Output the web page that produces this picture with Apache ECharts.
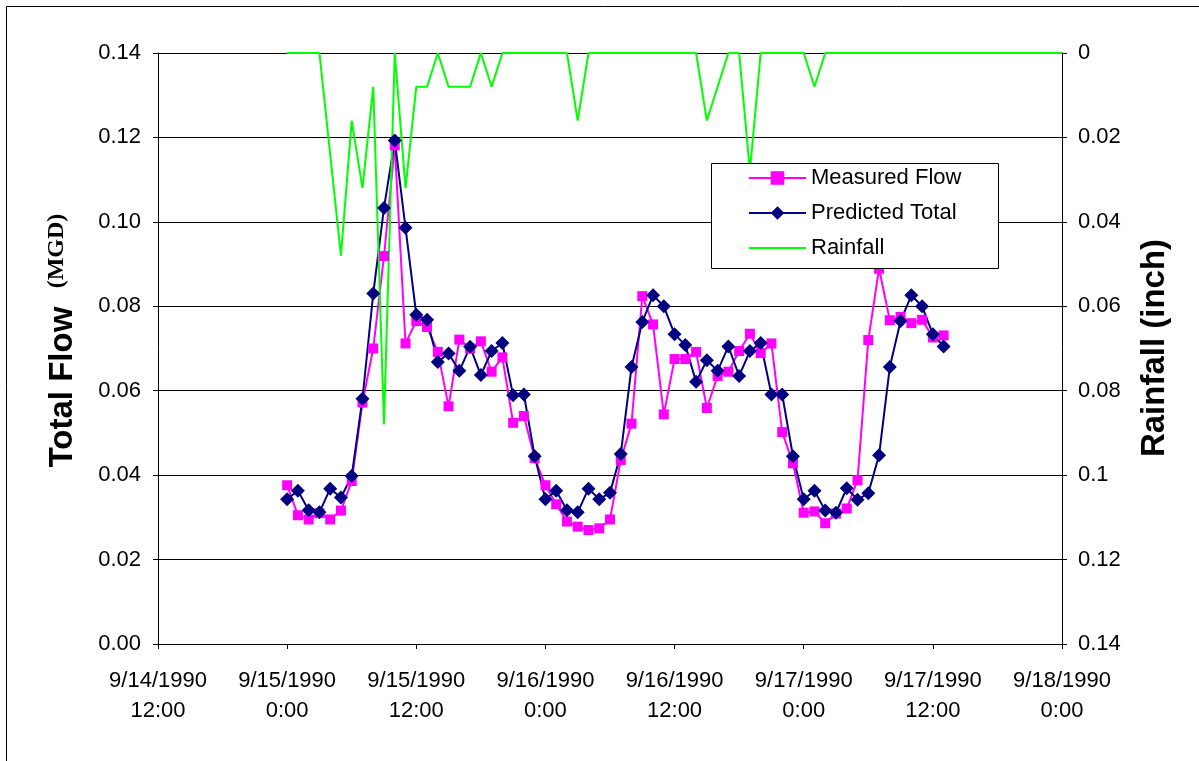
<!DOCTYPE html>
<html>
<head>
<meta charset="utf-8">
<script src="https://cdn.jsdelivr.net/npm/echarts@6/dist/echarts.min.js"></script>
<style>
html,body{margin:0;padding:0;background:#fff;}
#chart{width:1199px;height:761px;}
</style>
</head>
<body>
<div id="chart"></div>
<script>
// Axis starts at 9/14/1990 12:00; values are hours since then
const axisStart = Date.UTC(1990, 8, 14, 12);
const xTickHours = [0, 12, 24, 36, 48, 60, 72, 84];
// hourly readings, first at 9/15/1990 0:00 (hour 12 on the axis)
const flowStartHour = 12;
const measuredFlow = [
  0.0376, 0.0305, 0.0295, 0.0310, 0.0295, 0.0316, 0.0386, 0.0572, 0.0700, 0.0919,
  0.1181, 0.0712, 0.0765, 0.0751, 0.0692, 0.0563, 0.0721, 0.0700, 0.0717, 0.0645,
  0.0679, 0.0524, 0.0540, 0.0440, 0.0376, 0.0331, 0.0290, 0.0278, 0.0270, 0.0274,
  0.0295, 0.0436, 0.0522, 0.0824, 0.0757, 0.0544, 0.0675, 0.0675, 0.0692, 0.0559,
  0.0635, 0.0645, 0.0694, 0.0735, 0.0689, 0.0712, 0.0502, 0.0428, 0.0311, 0.0314,
  0.0286, 0.0309, 0.0321, 0.0388, 0.0720, 0.0889, 0.0767, 0.0775, 0.0760, 0.0768,
  0.0726, 0.0731
];
const predictedTotal = [
  0.0343, 0.0363, 0.0317, 0.0312, 0.0368, 0.0347, 0.0398, 0.0581, 0.0830, 0.1033,
  0.1193, 0.0986, 0.0780, 0.0768, 0.0668, 0.0688, 0.0647, 0.0704, 0.0637, 0.0694,
  0.0713, 0.0589, 0.0591, 0.0445, 0.0343, 0.0363, 0.0317, 0.0312, 0.0368, 0.0343,
  0.0358, 0.0450, 0.0656, 0.0763, 0.0826, 0.0800, 0.0734, 0.0708, 0.0621, 0.0672,
  0.0647, 0.0705, 0.0635, 0.0694, 0.0713, 0.0591, 0.0591, 0.0445, 0.0343, 0.0363,
  0.0316, 0.0311, 0.0369, 0.0342, 0.0357, 0.0447, 0.0656, 0.0765, 0.0826, 0.0800,
  0.0734, 0.0705
];
const rainfall = [
  0, 0, 0, 0, 0.024, 0.048, 0.016, 0.032, 0.008, 0.088,
  0, 0.032, 0.008, 0.008, 0, 0.008, 0.008, 0.008, 0, 0.008,
  0, 0, 0, 0, 0, 0, 0, 0.016, 0, 0,
  0, 0, 0, 0, 0, 0, 0, 0, 0, 0.016,
  0.008, 0, 0, 0.028, 0, 0, 0, 0, 0, 0.008,
  0, 0, 0, 0, 0, 0, 0, 0, 0, 0,
  0, 0, 0, 0, 0, 0, 0, 0, 0, 0,
  0, 0, 0
];
const flowTicks = [0, 0.02, 0.04, 0.06, 0.08, 0.10, 0.12, 0.14];

function pts(arr) { return arr.map((v, i) => [flowStartHour + i, v]); }
function fmtTime(h) {
  const d = new Date(axisStart + h * 3600e3);
  return (d.getUTCMonth() + 1) + '/' + d.getUTCDate() + '/' + d.getUTCFullYear() + '\n' +
    d.getUTCHours() + ':' + String(d.getUTCMinutes()).padStart(2, '0');
}

const FONT = '"Liberation Sans", Arial, sans-serif';
const chart = echarts.init(document.getElementById('chart'), null, {renderer: 'canvas'});
chart.setOption({
  animation: false,
  backgroundColor: '#fff',
  grid: {left: 158, right: 137, top: 53, bottom: 117, containLabel: false},
  legend: {
    orient: 'vertical', left: 748, top: 167, padding: 0, itemGap: 13,
    itemWidth: 57, itemHeight: 17, z: 10,
    textStyle: {fontFamily: FONT, fontSize: 22, color: '#000'},
    data: ['Measured Flow', 'Predicted Total',
      {name: 'Rainfall', itemStyle: {color: 'rgba(0,0,0,0)', opacity: 0, borderWidth: 0}}]
  },
  xAxis: {
    type: 'value', min: xTickHours[0], max: xTickHours[xTickHours.length - 1], interval: 12,
    axisLine: {show: true, lineStyle: {color: '#000', width: 1}},
    axisTick: {show: true, inside: false, length: 5, lineStyle: {color: '#000'}},
    splitLine: {show: false},
    axisLabel: {fontFamily: FONT, fontSize: 22, color: '#000', margin: 22, lineHeight: 30,
      formatter: v => fmtTime(v)}
  },
  yAxis: [{
    type: 'value', min: flowTicks[0], max: flowTicks[flowTicks.length - 1], interval: 0.02,
    axisLine: {show: true, lineStyle: {color: '#000', width: 1}},
    axisTick: {show: true, inside: false, length: 5, lineStyle: {color: '#000'}},
    splitLine: {show: true, lineStyle: {color: '#000', width: 1}},
    axisLabel: {fontFamily: FONT, fontSize: 22, color: '#000', margin: 17, formatter: v => v.toFixed(2)}
  }, {
    type: 'value', inverse: true, min: 0, max: 0.14, interval: 0.02, position: 'right',
    axisLine: {show: true, lineStyle: {color: '#000', width: 1}},
    axisTick: {show: true, inside: false, length: 5, lineStyle: {color: '#000'}},
    splitLine: {show: false},
    axisLabel: {fontFamily: FONT, fontSize: 22, color: '#000', margin: 16,
      formatter: v => String(+v.toFixed(2))}
  }],
  graphic: [
    {type: 'rect', z: 5, shape: {x: 711.5, y: 163.5, width: 287, height: 105},
      style: {fill: '#fff', stroke: '#000', lineWidth: 1}},
    {type: 'text', x: 63, y: 387, rotation: Math.PI / 2,
      style: {text: 'Total Flow', font: 'bold 33px ' + FONT, fill: '#000',
        textAlign: 'center', textVerticalAlign: 'middle', align: 'center', verticalAlign: 'middle'}},
    {type: 'text', x: 57, y: 251, rotation: Math.PI / 2,
      style: {text: '(MGD)', font: 'bold 24px "Liberation Serif", "Times New Roman", serif', fill: '#000',
        textAlign: 'center', textVerticalAlign: 'middle', align: 'center', verticalAlign: 'middle'}},
    {type: 'text', x: 1155, y: 348, rotation: Math.PI / 2,
      style: {text: 'Rainfall (inch)', font: 'bold 33px ' + FONT, fill: '#000',
        textAlign: 'center', textVerticalAlign: 'middle', align: 'center', verticalAlign: 'middle'}},
    {type: 'rect', z: 20, silent: true, shape: {x: 6.5, y: 6.5, width: 1250, height: 800},
      style: {fill: 'none', stroke: '#000', lineWidth: 1}}
  ],
  series: [{
    name: 'Measured Flow', type: 'line', data: pts(measuredFlow),
    symbol: 'rect', symbolSize: 10, color: '#FF00FF',
    lineStyle: {color: '#FF00FF', width: 2}, itemStyle: {color: '#FF00FF'}
  }, {
    name: 'Predicted Total', type: 'line', data: pts(predictedTotal),
    symbol: 'diamond', symbolSize: 14, color: '#000080',
    lineStyle: {color: '#000080', width: 2}, itemStyle: {color: '#000080'}
  }, {
    name: 'Rainfall', type: 'line', yAxisIndex: 1, data: pts(rainfall),
    symbol: 'none', color: '#00FF00',
    lineStyle: {color: '#00FF00', width: 2}, itemStyle: {color: '#00FF00'}
  }]
});
</script>
</body>
</html>
